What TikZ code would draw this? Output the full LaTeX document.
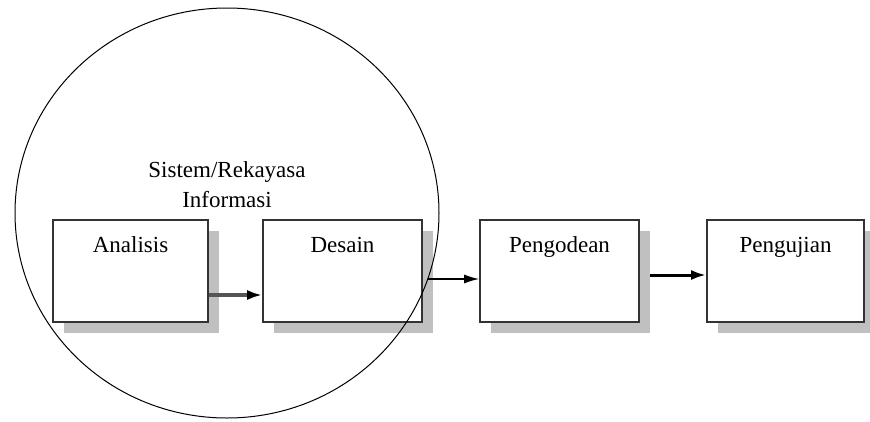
\documentclass[tikz,border=0pt]{standalone}
\usepackage{fontspec}
\setmainfont{Liberation Serif}
\usetikzlibrary{arrows.meta,shapes.geometric,shadows}
\definecolor{boxline}{HTML}{333333}
\definecolor{shade}{HTML}{C0C0C0}
\definecolor{greyline}{HTML}{555555}
\tikzset{
  stagebox/.style={draw=boxline, line width=1.6pt, fill=white, inner sep=0pt,
    minimum height=102pt,
    drop shadow={shadow xshift=11pt, shadow yshift=-11pt, fill=shade, opacity=1}},
  stagetext/.style={anchor=base, inner sep=0pt, font=\fontsize{23}{30}\selectfont},
  flow/.style={line width=2.5pt, -{Latex[length=15pt,width=10pt]}},
}
\begin{document}
\begin{tikzpicture}[x=1pt,y=-1pt]
  \useasboundingbox (0,0) rectangle (870,421);
  % process stages
  \node[stagebox, minimum width=155pt] (Analisis)  at (130.5,271) {};
  \node[stagebox, minimum width=159pt] (Desain)    at (342.5,271) {};
  \node[stagebox, minimum width=159pt] (Pengodean) at (559.5,271) {};
  \node[stagebox, minimum width=157pt] (Pengujian) at (785.5,271) {};
  % stage names
  \node[stagetext] (tA) at ([yshift=-33pt]Analisis.north)  {Analisis};
  \node[stagetext] (tD) at ([yshift=-33pt]Desain.north)    {Desain};
  \node[stagetext] (tP) at ([yshift=-33pt]Pengodean.north) {Pengodean};
  \node[stagetext] (tU) at ([yshift=-33pt]Pengujian.north) {Pengujian};
  % connectors
  \draw[flow, line width=4pt, draw=greyline, -{Latex[length=15pt,width=10pt,black]}]
    (Analisis.east |- 0,295) -- (Desain.west |- 0,295);
  \coordinate (dOut) at (428,279);
  \draw[flow, line width=1.5pt, -{Latex[length=15pt,width=9pt]}]
    (dOut) -- (Pengodean.west |- dOut);
  \coordinate (pOut) at (650,275);
  \draw[flow, line width=3pt] (pOut) -- (Pengujian.west |- pOut);
  % information-system engineering scope
  \node[draw=black, line width=1pt, ellipse, inner sep=0pt,
        minimum width=424pt, minimum height=410pt] (scope) at (227,213) {};
  \node[align=center, inner sep=0pt, font=\fontsize{23}{30}\selectfont]
    (scopeLabel) at (227,185) {Sistem/Rekayasa\\Informasi};
\end{tikzpicture}
\end{document}
